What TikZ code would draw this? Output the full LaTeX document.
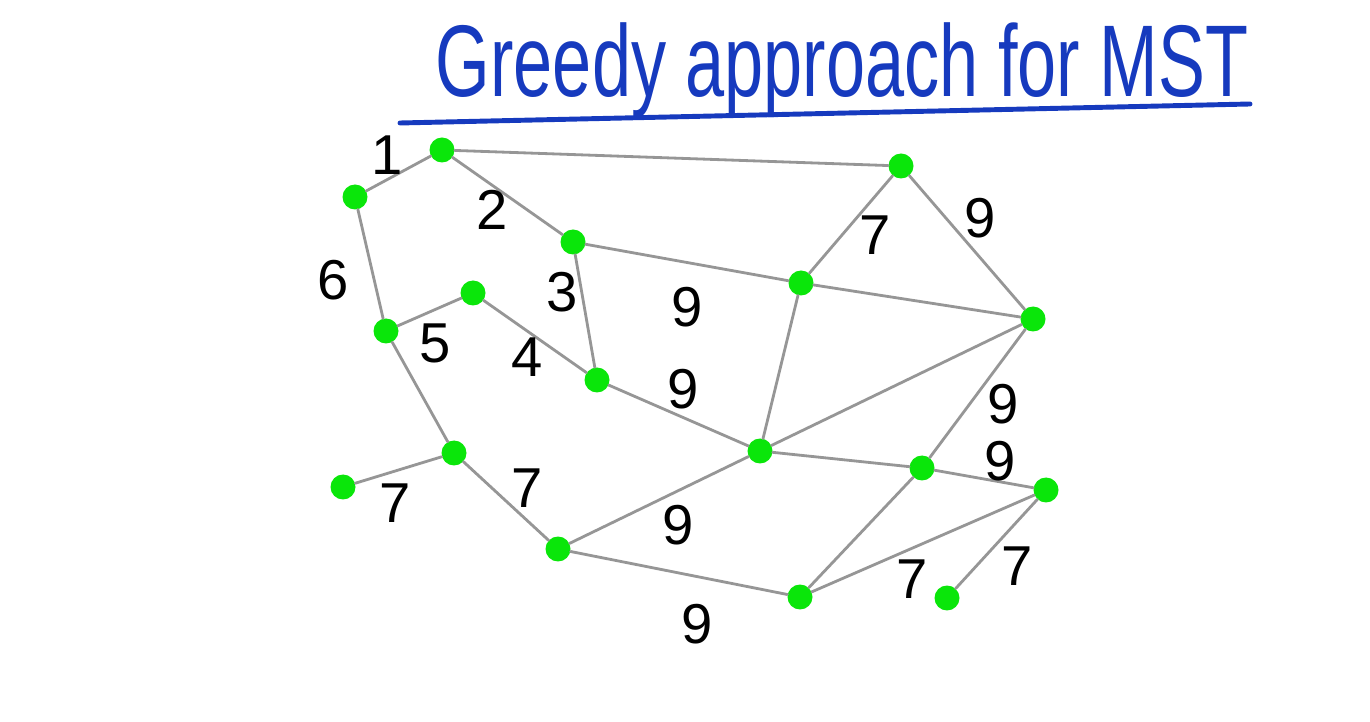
\documentclass[tikz,border=0pt]{standalone}
\usepackage{fontspec}
\setmainfont{Liberation Sans}
\definecolor{penblue}{RGB}{22,58,190}
\definecolor{dotgreen}{RGB}{10,230,10}
\definecolor{linegray}{RGB}{150,150,150}
\begin{document}
\begin{tikzpicture}[x=0.02cm, y=-0.02cm, line join=round, line cap=round]
	\tikzset{
	vtx/.style={circle, fill=dotgreen, inner sep=0pt, minimum size=0.5cm},
	edge/.style={draw=linegray, line width=1.6pt},
	wt/.style={font=\fontsize{32}{32}\selectfont, text=black, inner sep=0pt},
	}
	\useasboundingbox (0,0) rectangle (1370,722);
	% title
	\node[anchor=base, text=penblue, font=\fontsize{40}{40}\selectfont, inner sep=0pt] (title) at (842,97) {\scalebox{1}[1.45]{Greedy approach for MST}};
	\coordinate (ul1) at (400,123);
	\coordinate (ul2) at (1250,104);
	\draw[penblue, line width=2.8pt] (ul1) -- (ul2);
	% vertices
	\foreach \n/\x/\y in {a/442/150, b/355/197, c/901/166, d/573/242, e/801/283, f/1033/319,
	g/473/293, h/386/331, i/597/380, j/760/451, k/922/468, l/1046/490,
	m/454/453, n/343/487, o/558/549, p/800/597, q/947/598}
	\node[vtx] (\n) at (\x,\y) {};
	% edges
	\foreach \u/\v in {a/b, a/c, a/d, b/h, d/i, d/e, c/e, c/f, e/f, e/j, f/j, f/k, g/h, g/i,
	h/m, m/n, m/o, o/j, o/p, i/j, j/k, k/l, k/p, p/l, l/q}
	\draw[edge] (\u) -- (\v);
	% weights
	\foreach \w/\x/\y [count=\c] in {1/387/155, 2/492/210, 6/333/280, 3/562/292, 5/435/343, 4/527/357,
	7/875/235, 9/980/218, 9/687/307, 9/683/389, 9/1003/404, 9/1000/461,
	7/395/503, 7/527/488, 9/678/525, 9/697/624, 7/912/579, 7/1017/566}
	\node[wt] (w\c) at (\x,\y) {\w};
\end{tikzpicture}
\end{document}
